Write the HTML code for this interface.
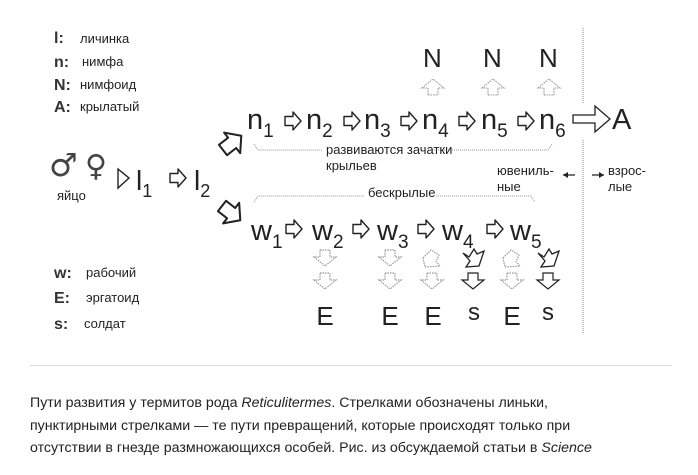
<!DOCTYPE html>
<html><head><meta charset="utf-8"><style>
html,body{margin:0;padding:0;background:#fff;}
body{width:698px;height:475px;overflow:hidden;position:relative;font-family:"Liberation Sans",sans-serif;}
.cap{position:absolute;left:30px;top:392px;font-size:14.2px;line-height:22.5px;color:#222;width:660px;}
</style></head><body>
<svg width="698" height="475" style="position:absolute;left:0;top:0" font-family="Liberation Sans, sans-serif">
<defs>
<polygon id="ra" points="0,-4.5 8,-4.5 8,-9 16,0 8,9 8,4.5 0,4.5" fill="#fff" stroke="#222" stroke-width="1.4" stroke-linejoin="round"/>
<polygon id="da" points="-5,-8 5,-8 5,-1 11,-1 0,8 -11,-1 -5,-1" fill="#fff" stroke-width="1.2"/>
<polygon id="ua" points="-5,8 5,8 5,1 11,1 0,-8 -11,1 -5,1" fill="#fff" stroke="#999" stroke-width="1.1" stroke-dasharray="1.5 1"/>
<polygon id="wg" points="-9,0 -1,-8 7,-3 4,4 8,8 -7,9" fill="#fff" stroke-width="1.2"/>
<polygon id="wd" points="-10,-5 -4,-1 1,-9 4,-4 11,-7 6,8 -7,9 -3,3" fill="#fff" stroke-width="1.3"/>
</defs>
<g fill="#222">
<g font-size="16" font-weight="bold" fill="#333"><text x="54" y="43">l:</text><text x="54" y="67">n:</text><text x="54" y="90">N:</text><text x="54" y="112">A:</text>
<text x="54" y="278">w:</text><text x="54" y="303">E:</text><text x="54" y="329">s:</text></g>
<g font-size="13"><text x="80" y="43">личинка</text><text x="82" y="66">нимфа</text><text x="80" y="89">нимфоид</text><text x="80" y="111">крылатый</text>
<text x="86" y="277">рабочий</text><text x="86" y="302">эргатоид</text><text x="84" y="328">солдат</text></g>
<text x="49" y="176" font-size="32" font-family="DejaVu Sans" fill="#444">♂</text>
<text x="85" y="176" font-size="30" font-family="DejaVu Sans" fill="#444">♀</text>
<text x="57" y="200" font-size="13">яйцо</text>
<polygon points="118,169 129,178 118,188" fill="none" stroke="#222" stroke-width="1.4"/>
<text x="136" y="190" font-size="28">l<tspan font-size="18" dy="7">1</tspan></text>
<use href="#ra" x="170" y="178"/>
<text x="194" y="190" font-size="28">l<tspan font-size="18" dy="7">2</tspan></text>
<use href="#ra" transform="translate(223,150) rotate(-38) scale(1.45)"/>
<use href="#ra" transform="translate(222,206) rotate(38) scale(1.45)"/>
<g font-size="29">
<text x="247" y="129">n<tspan font-size="19" dy="8">1</tspan></text>
<text x="306" y="129">n<tspan font-size="19" dy="8">2</tspan></text>
<text x="364" y="129">n<tspan font-size="19" dy="8">3</tspan></text>
<text x="422" y="129">n<tspan font-size="19" dy="8">4</tspan></text>
<text x="481" y="129">n<tspan font-size="19" dy="8">5</tspan></text>
<text x="539" y="129">n<tspan font-size="19" dy="8">6</tspan></text>
<text x="612" y="129">A</text>
</g>
<use href="#ra" x="285" y="121"/><use href="#ra" x="344" y="121"/><use href="#ra" x="401" y="121"/><use href="#ra" x="459" y="121"/><use href="#ra" x="518" y="121"/>
<polygon points="573,115 595,115 595,106 610,119 595,132 595,123 573,123" fill="#fff" stroke="#222" stroke-width="1.3"/>
<g font-size="26"><text x="423" y="67">N</text><text x="483" y="67">N</text><text x="539" y="67">N</text></g>
<use href="#ua" x="433" y="87"/><use href="#ua" x="493" y="87"/><use href="#ua" x="549" y="87"/>
<path d="M254,144 L258,150 L322,150 M428,150 L548,150 L552,144" fill="none" stroke="#999" stroke-width="1" stroke-dasharray="1 1"/>
<g font-size="13"><text x="326" y="154">развиваются зачатки</text><text x="326" y="170">крыльев</text>
<text x="497" y="175">ювениль-</text><text x="497" y="191">ные</text>
<text x="608" y="175">взрос-</text><text x="608" y="191">лые</text>
<text x="368" y="197">бескрылые</text></g>
<path d="M563,175 H575 M592,175 H604" stroke="#222" stroke-width="1.2"/>
<polygon points="563,175 568,172 568,178"/><polygon points="604,175 599,172 599,178"/>
<path d="M583,28 V103 M583,140 V333" stroke="#999" stroke-width="1.2" stroke-dasharray="1 1"/>
<path d="M254,202 L258,196 L365,196 M436,196 L531,196 L535,202" fill="none" stroke="#999" stroke-width="1" stroke-dasharray="1 1"/>
<g font-size="29">
<text x="251" y="240">w<tspan font-size="19" dy="8">1</tspan></text>
<text x="312" y="240">w<tspan font-size="19" dy="8">2</tspan></text>
<text x="377" y="240">w<tspan font-size="19" dy="8">3</tspan></text>
<text x="442" y="240">w<tspan font-size="19" dy="8">4</tspan></text>
<text x="510" y="240">w<tspan font-size="19" dy="8">5</tspan></text>
</g>
<use href="#ra" x="286" y="229"/><use href="#ra" x="353" y="229"/><use href="#ra" x="418" y="229"/><use href="#ra" x="487" y="229"/>
<g stroke="#999" stroke-dasharray="1.5 1">
<use href="#da" x="325" y="258"/><use href="#da" x="325" y="281"/>
<use href="#da" x="390" y="258"/><use href="#da" x="390" y="281"/>
<use href="#wg" x="432" y="258"/><use href="#da" x="432" y="281"/>
<use href="#wg" x="512" y="258"/><use href="#da" x="512" y="281"/>
</g>
<g stroke="#222">
<use href="#wd" x="473" y="258"/><use href="#da" x="473" y="281"/>
<use href="#wd" x="548" y="258"/><use href="#da" x="548" y="281"/>
</g>
<g font-size="26" text-anchor="middle"><text x="325" y="325">E</text><text x="390" y="325">E</text><text x="433" y="325">E</text><text x="512" y="325">E</text></g>
<g font-size="24" text-anchor="middle"><text x="474" y="320">s</text><text x="548" y="320">s</text></g>
</g>
<line x1="30" y1="365.5" x2="672" y2="365.5" stroke="#ddd" stroke-width="1"/>
</svg>
<div class="cap">Пути развития у термитов рода <i>Reticulitermes</i>. Стрелками обозначены линьки,<br>пунктирными стрелками — те пути превращений, которые происходят только при<br>отсутствии в гнезде размножающихся особей. Рис. из обсуждаемой статьи в <i>Science</i></div>
</body></html>
